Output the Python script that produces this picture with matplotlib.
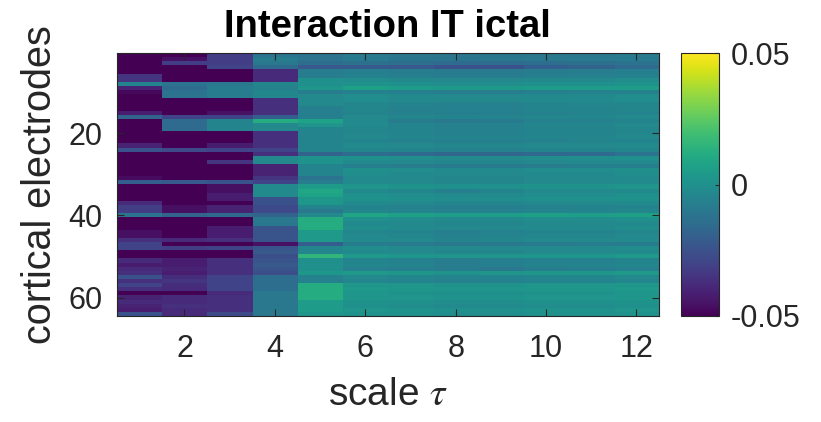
import numpy as np
import matplotlib.pyplot as plt

plt.rcParams['font.family'] = ['Liberation Sans', 'DejaVu Sans']
plt.rcParams['mathtext.fontset'] = 'stix'

# interaction values per scale tau (columns), electrodes 1..64 (rows), in units of 1e-3
tau1 = [-55, -55, -55, -55, -55, -35, -35, -5, -40, -48,
        -55, -55, -55, -55, -42, -18, -55, -55, -55, -55,
        -55, -55, -40, -25, -55, -55, -55, -55, -55, -55,
        -47, -20, -55, -55, -55, -55, -38, -32, -32, -12,
        -55, -55, -55, -46, -46, -36, -30, -30, -55, -55,
        -38, -42, -38, -36, -25, -36, -30, -36, -52, -40,
        -38, -40, -42, -25]
tau2 = [-50, -45, -32, -52, -52, -52, -52, -12, -15, -12,
        -12, -55, -55, -55, -55, -30, -15, -15, -15, -55,
        -55, -55, -55, -28, -55, -55, -55, -55, -55, -55,
        -55, -22, -55, -55, -55, -55, -55, -46, -46, -18,
        -55, -55, -55, -55, -55, -38, -55, -32, -55, -55,
        -42, -42, -40, -42, -37, -35, -37, -38, -52, -38,
        -38, -36, -38, -38]
tau3 = [-32, -32, -32, -30, -52, -52, -52, -10, -8, -8,
        -8, -55, -55, -55, -45, -30, -5, -5, -5, -55,
        -55, -55, -42, -30, -55, -55, -35, -53, -53, -53,
        -53, -25, -46, -46, -42, -42, -55, -40, -40, -16,
        -55, -55, -42, -42, -42, -36, -55, -30, -55, -55,
        -36, -36, -36, -36, -30, -30, -30, -30, -38, -36,
        -36, -36, -36, -28]
tau4 = [-12, -8, -10, -15, -38, -38, -38, -4, -6, -4,
        -4, -36, -36, -36, -36, -20, 12, -3, -3, -36,
        -36, -36, -36, -30, -36, -3, -3, -40, -40, -40,
        -35, -30, -2, -2, -2, -25, -25, -28, -28, -18,
        -10, -10, -24, -24, -24, -24, -45, -24, -22, -26,
        -24, -22, -24, -26, -14, -14, -14, -14, -10, -10,
        -10, -10, -10, -10]
tau5 = [-12, -12, -14, -22, -8, -8, 0, 0, 3, -8,
        -3, -3, -3, -7, -7, -7, 8, 2, -5, -5,
        -5, -5, -5, -5, -18, 1, 1, -5, -5, -5,
        -12, -8, 5, 10, 8, 3, 3, -5, -10, -3,
        12, 12, 12, 4, 4, 4, -20, -4, -4, 16,
        0, 0, 0, 3, -6, -6, 12, 12, 12, 12,
        5, 5, 5, 2]
tau6 = [-9, -9, -13, -21, -7, -6, -1, 1, 7, -6,
        -1, -1, -4, -4, -5, -3, -2, -2, -4, -4,
        -3, -5, -2, -4, -14, 0, -2, -7, 0, -1,
        -2, -2, 2, -2, 0, 1, -2, -5, -4, 9,
        0, -2, -1, -4, -3, -2, -8, -1, -2, 4,
        -5, -4, -6, 4, -3, -4, 3, 4, 2, 3,
        1, 0, 2, 1]
tau7 = [-10, -11, -14, -22, -8, -7, -2, 0, 5, -7,
        -2, -3, -5, -6, -6, -4, -8, -5, -5, -5,
        -4, -6, -3, -5, -15, -1, -3, -8, -1, -2,
        -3, -3, 1, -4, -1, 0, -3, -6, -5, 7,
        -1, -3, -2, -5, -4, -3, -9, -2, -3, 3,
        -6, -5, -7, 3, -4, -5, 2, 3, 1, 2,
        0, -1, 1, 0]
tau8 = [-11, -11, -15, -25, -9, -8, -3, -1, 4, -8,
        -3, -3, -6, -6, -7, -5, -10, -6, -6, -6,
        -5, -7, -4, -6, -17, -2, -4, -9, -2, -3,
        -4, -4, 0, -7, -2, -1, -4, -7, -6, 6,
        -2, -4, -3, -7, -6, -5, -10, -3, -4, 2,
        -8, -8, -8, 1, -5, -6, 1, 2, 0, 1,
        -1, -2, 0, -1]
tau9 = [-11, -10, -15, -25, -9, -8, -3, -1, 4, -8,
        -3, -3, -6, -6, -7, -5, -9, -6, -6, -6,
        -5, -7, -4, -6, -17, -2, -4, -9, -2, -3,
        -4, -4, 0, -5, -2, -1, -4, -7, -6, 6,
        -2, -4, -3, -6, -5, -4, -10, -3, -4, 2,
        -7, -7, -10, 2, -5, -6, 1, 2, 0, 1,
        -1, -2, 0, -1]
tau10 = [-10, -10, -14, -20, -8, -7, -2, 0, 5, -7,
         -2, -2, -5, -5, -6, -4, -6, -4, -5, -5,
         -4, -6, -3, -5, -16, -1, -3, -8, -1, -2,
         -3, -3, 1, -3, -1, 0, -3, -6, -5, 7,
         -1, -3, -2, -5, -4, -3, -9, -2, -3, 3,
         -6, -5, -8, 3, -4, -5, 2, 3, 1, 2,
         0, -1, 1, 0]
tau11 = [-10, -9, -13, -18, -8, -6, -2, 0, 5, -6,
         -2, -2, -4, -5, -5, -4, -6, -4, -5, -5,
         -4, -5, -3, -5, -15, -1, -3, -7, -1, -2,
         -3, -3, 1, -3, -1, 0, -3, -5, -5, 6,
         -1, -3, -2, -5, -4, -3, -8, -2, -3, 3,
         -6, -5, -7, 3, -4, -5, 2, 3, 1, 2,
         0, -1, 1, 0]
tau12 = [-9, -9, -12, -15, -7, -6, -1, 1, 6, -6,
         -1, -1, -4, -4, -5, -3, -5, -3, -4, -4,
         -3, -5, -2, -4, -12, 0, -2, -7, 0, -1,
         -2, -2, 2, -2, 0, 1, -2, -5, -4, 7,
         0, -2, -1, -4, -3, -2, -8, -1, -2, 4,
         -5, -4, -6, 4, -3, -4, 3, 4, 2, 3,
         1, 0, 2, 1]

xticks = [2, 4, 6, 8, 10, 12]
yticks = [20, 40, 60]
cticks = [-0.05, 0, 0.05]
clabels = ['-0.05', '0', '0.05']

data = np.array([tau1, tau2, tau3, tau4, tau5, tau6,
                 tau7, tau8, tau9, tau10, tau11, tau12]).T * 1e-3
nrows, ncols = data.shape

fig = plt.figure(figsize=(8.21, 4.22), dpi=100)
ax = fig.add_axes([0.1421, 0.2512, 0.6606, 0.6225])
im = ax.imshow(data, cmap='viridis', vmin=-0.05, vmax=0.05, aspect='auto',
               interpolation='nearest',
               extent=(0.5, ncols + 0.5, nrows + 0.5, 0.5))

grey = '#262626'
ax.set_xticks(xticks)
ax.set_yticks(yticks)
ax.tick_params(direction='in', top=True, right=True, length=5, width=0.8,
               labelsize=22, colors=grey)
ax.tick_params(axis='x', pad=13)
ax.tick_params(axis='y', pad=10)
for s in ax.spines.values():
    s.set_color(grey)

ax.set_title('Interaction IT ictal', fontsize=27.5, fontweight='bold', pad=12)
ax.set_xlabel('scale $\\tau$', fontsize=28, color=grey, labelpad=9)
ax.set_ylabel('cortical electrodes', fontsize=28.5, color=grey, labelpad=7)

cax = fig.add_axes([0.829, 0.2512, 0.047, 0.6225])
cb = fig.colorbar(im, cax=cax, ticks=cticks)
cb.ax.set_yticklabels(clabels)
cb.ax.tick_params(labelsize=22, direction='in', length=3, colors=grey, pad=8)
cb.outline.set_edgecolor(grey)

fig.savefig('out.png', dpi=100)
